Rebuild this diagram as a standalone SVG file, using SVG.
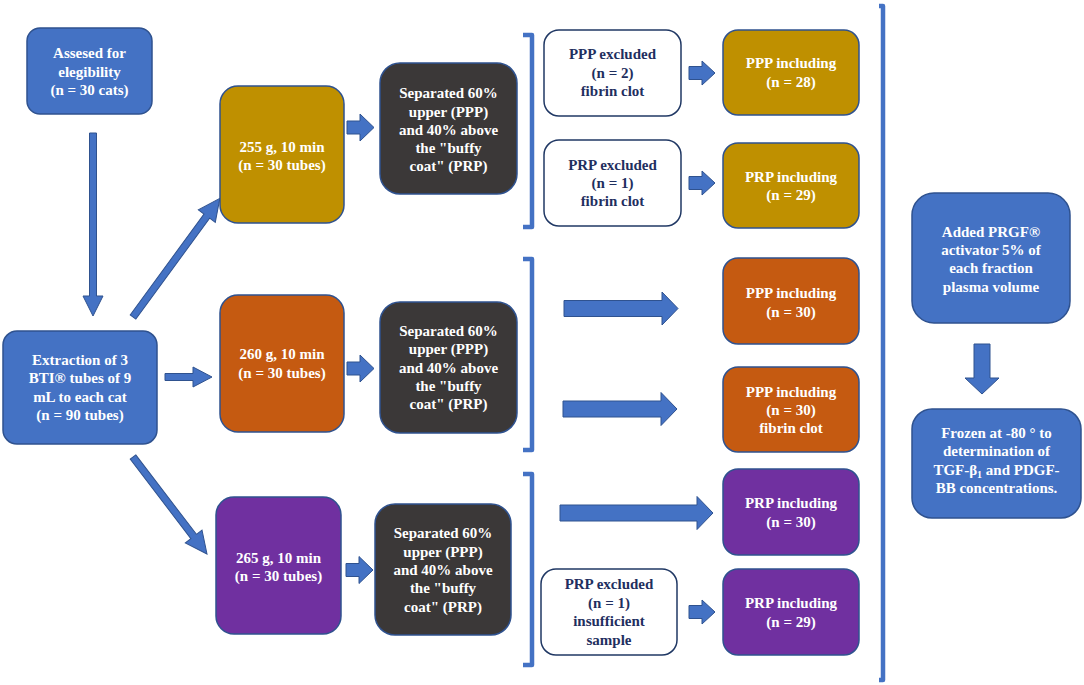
<svg xmlns="http://www.w3.org/2000/svg" width="1084" height="685" viewBox="0 0 1084 685">
<style>
.t{font-family:"Liberation Serif","Times New Roman",serif;font-weight:bold;font-size:15px;text-anchor:middle;dominant-baseline:central;fill:#fff}
.d{fill:#1F2F5F}
.blue{fill:#4472C4;stroke:#2F528F;stroke-width:1.5}
.gold{fill:#BF9000;stroke:#2F528F;stroke-width:1.5}
.orange{fill:#C55A11;stroke:#2F528F;stroke-width:1.5}
.purple{fill:#7030A0;stroke:#2F528F;stroke-width:1.5}
.dark{fill:#3B3838;stroke:#2F528F;stroke-width:1.5}
.white{fill:#fff;stroke:#203864;stroke-width:1.5}
.arr{fill:#4472C4;stroke:#2F528F;stroke-width:1}
.br{fill:none;stroke:#4472C4;stroke-width:4.5;stroke-linejoin:round}
</style>
<rect width="1084" height="685" fill="#fff"/>
<g id="connectors">
<polygon class="arr" points="89.5,133 96.5,133 96.5,296 103,296 93,316 83,296 89.5,296"/>
<g transform="translate(133,317) rotate(-53.8)"><polygon class="arr" points="0,-3.5 125,-3.5 125,-10.5 147,0 125,10.5 125,3.5 0,3.5"/></g>
<g transform="translate(133,457) rotate(52.66)"><polygon class="arr" points="0,-3.5 100,-3.5 100,-10.5 122,0 100,10.5 100,3.5 0,3.5"/></g>
<polygon class="arr" points="165,373.5 193,373.5 193,367 212,377 193,387 193,380.5 165,380.5"/>
<polygon class="arr" points="347,121 360,121 360,114 374,127.5 360,141 360,134 347,134"/>
<polygon class="arr" points="347,362 360,362 360,355 374,368.5 360,382 360,375 347,375"/>
<polygon class="arr" points="346,563.5 359,563.5 359,556.5 373,570 359,583.5 359,576.5 346,576.5"/>
<polygon class="arr" points="689,66.5 702,66.5 702,61 715,73 702,85 702,79.5 689,79.5"/>
<polygon class="arr" points="689,176.5 702,176.5 702,171 715,183 702,195 702,189.5 689,189.5"/>
<polygon class="arr" points="689,605.5 702,605.5 702,600 715,612 702,624 702,618.5 689,618.5"/>
<polygon class="arr" points="564,300.5 662,300.5 662,292 678,308.5 662,325 662,316.5 564,316.5"/>
<polygon class="arr" points="563,401 661,401 661,392.5 677,409 661,425.5 661,417 563,417"/>
<polygon class="arr" points="560,505 697,505 697,496.5 713,513 697,529.5 697,521 560,521"/>
<polygon class="arr" points="974,344 990,344 990,378 999,378 982,394 965,378 974,378"/>
<path class="br" d="M523,35 H532 V227 H523"/>
<path class="br" d="M523,259 H532 V450 H523"/>
<path class="br" d="M523,474 H532 V665 H523"/>
<path class="br" d="M879,6 H883 V680 H879"/>
</g>
<g id="assessed"><rect class="blue" x="27" y="28" width="125" height="86" rx="13"/>
<text class="t" x="89.5" y="53">Assesed for</text><text class="t" x="89.5" y="72">elegibility</text><text class="t" x="89.5" y="90">(n = 30 cats)</text></g>
<g id="extraction"><rect class="blue" x="3" y="331" width="154" height="113" rx="14"/>
<text class="t" x="80" y="360">Extraction of 3</text><text class="t" x="80" y="378">BTI® tubes of 9</text><text class="t" x="80" y="397">mL to each cat</text><text class="t" x="80" y="415">(n = 90 tubes)</text></g>
<g id="n255"><rect class="gold" x="220" y="86" width="124" height="137" rx="18"/>
<text class="t" x="282" y="147">255 g, 10 min</text><text class="t" x="282" y="165">(n = 30 tubes)</text></g>
<g id="n260"><rect class="orange" x="220" y="295" width="124" height="137" rx="18"/>
<text class="t" x="282" y="354">260 g, 10 min</text><text class="t" x="282" y="373">(n = 30 tubes)</text></g>
<g id="n265"><rect class="purple" x="216" y="497" width="125" height="137" rx="18"/>
<text class="t" x="278.5" y="558">265 g, 10 min</text><text class="t" x="278.5" y="576">(n = 30 tubes)</text></g>
<g id="sep1"><rect class="dark" x="380" y="63" width="137" height="131" rx="20"/>
<text class="t" x="448.5" y="93">Separated 60%</text><text class="t" x="448.5" y="112">upper (PPP)</text><text class="t" x="448.5" y="130">and 40% above</text><text class="t" x="448.5" y="148">the "buffy</text><text class="t" x="448.5" y="166">coat" (PRP)</text></g>
<g id="sep2"><rect class="dark" x="380" y="302" width="137" height="131" rx="20"/>
<text class="t" x="448.5" y="331">Separated 60%</text><text class="t" x="448.5" y="349">upper (PPP)</text><text class="t" x="448.5" y="368">and 40% above</text><text class="t" x="448.5" y="386">the "buffy</text><text class="t" x="448.5" y="404">coat" (PRP)</text></g>
<g id="sep3"><rect class="dark" x="375" y="504" width="136" height="131" rx="20"/>
<text class="t" x="443" y="533">Separated 60%</text><text class="t" x="443" y="552">upper (PPP)</text><text class="t" x="443" y="570">and 40% above</text><text class="t" x="443" y="588">the "buffy</text><text class="t" x="443" y="607">coat" (PRP)</text></g>
<g id="pppexcl"><rect class="white" x="544" y="30" width="137" height="86" rx="15"/>
<text class="t d" x="612.5" y="54">PPP excluded</text><text class="t d" x="612.5" y="73">(n = 2)</text><text class="t d" x="612.5" y="91">fibrin clot</text></g>
<g id="prpexcl1"><rect class="white" x="544" y="140" width="137" height="86" rx="15"/>
<text class="t d" x="612.5" y="165">PRP excluded</text><text class="t d" x="612.5" y="183">(n = 1)</text><text class="t d" x="612.5" y="201">fibrin clot</text></g>
<g id="prpexcl2"><rect class="white" x="541" y="569" width="136" height="86" rx="15"/>
<text class="t d" x="609" y="584">PRP excluded</text><text class="t d" x="609" y="603">(n = 1)</text><text class="t d" x="609" y="621">insufficient</text><text class="t d" x="609" y="640">sample</text></g>
<g id="ppp28"><rect class="gold" x="723" y="30" width="136" height="85" rx="15"/>
<text class="t" x="791" y="63">PPP including</text><text class="t" x="791" y="82">(n = 28)</text></g>
<g id="prp29a"><rect class="gold" x="723" y="143" width="136" height="85" rx="15"/>
<text class="t" x="791" y="177">PRP including</text><text class="t" x="791" y="195">(n = 29)</text></g>
<g id="ppp30"><rect class="orange" x="723" y="258" width="136" height="86" rx="15"/>
<text class="t" x="791" y="293">PPP including</text><text class="t" x="791" y="312">(n = 30)</text></g>
<g id="ppp30f"><rect class="orange" x="723" y="367" width="136" height="85" rx="15"/>
<text class="t" x="791" y="392">PPP including</text><text class="t" x="791" y="410">(n = 30)</text><text class="t" x="791" y="428">fibrin clot</text></g>
<g id="prp30"><rect class="purple" x="723" y="469" width="136" height="86" rx="15"/>
<text class="t" x="791" y="503">PRP including</text><text class="t" x="791" y="522">(n = 30)</text></g>
<g id="prp29b"><rect class="purple" x="723" y="569" width="136" height="86" rx="15"/>
<text class="t" x="791" y="603">PRP including</text><text class="t" x="791" y="622">(n = 29)</text></g>
<g id="added"><rect class="blue" x="912" y="193" width="158" height="130" rx="22"/>
<text class="t" x="991" y="232">Added PRGF®</text><text class="t" x="991" y="250">activator 5% of</text><text class="t" x="991" y="268">each fraction</text><text class="t" x="991" y="287">plasma volume</text></g>
<g id="frozen"><rect class="blue" x="912" y="409" width="169" height="109" rx="20"/>
<text class="t" x="996.5" y="433">Frozen at -80 ° to</text><text class="t" x="996.5" y="451">determination of</text><text class="t" x="996.5" y="470">TGF-β<tspan font-size="10" dy="4">1</tspan><tspan dy="-4"> and PDGF-</tspan></text><text class="t" x="996.5" y="488">BB concentrations.</text></g>
</svg>
